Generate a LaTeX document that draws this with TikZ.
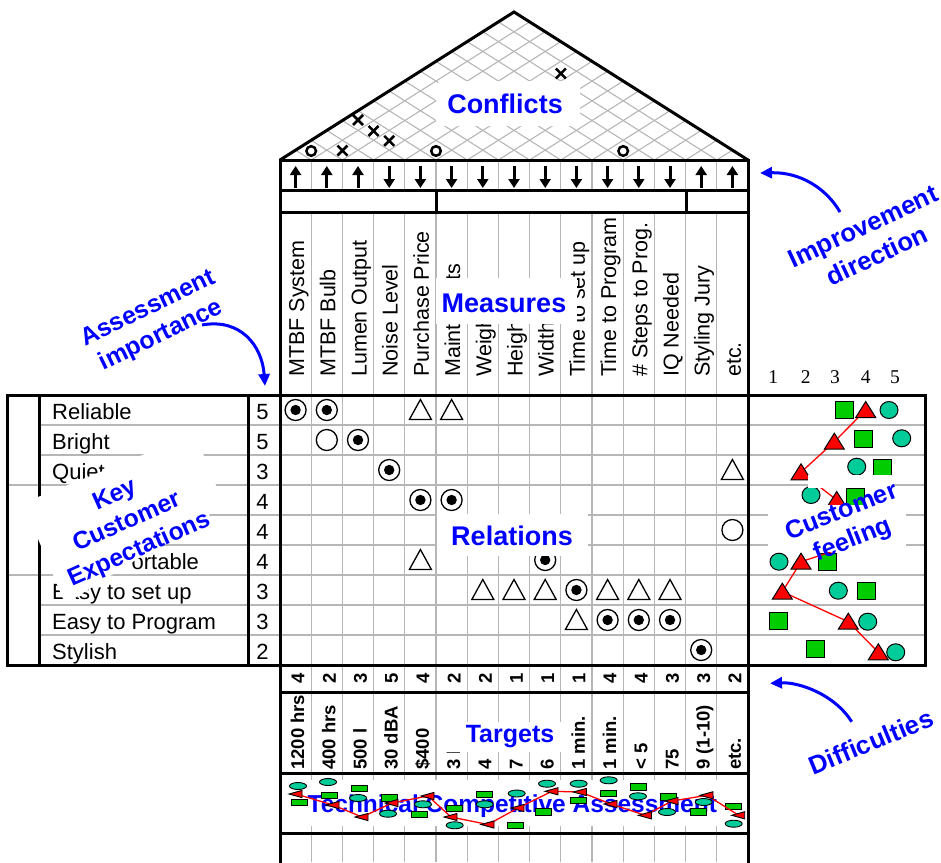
\documentclass[tikz,border=0pt]{standalone}
\usepackage{fontspec}
\setmainfont{Liberation Sans}
\newfontfamily\numserif{Liberation Serif}
\usetikzlibrary{arrows.meta}

\definecolor{gridgray}{RGB}{182,182,182}
\definecolor{mkgreen}{RGB}{0,204,0}
\definecolor{mkteal}{RGB}{0,204,153}
\definecolor{mkred}{RGB}{255,0,0}
\definecolor{lblue}{RGB}{0,0,255}

\begin{document}
\begin{tikzpicture}[x=1pt,y=-1pt,
  frame/.style={line width=3pt,line cap=rect},
  gridline/.style={draw=gridgray,line width=1.1pt},
  roofmark/.style={line width=2.5pt},
  dirarrow/.style={line width=3pt,-{Triangle[length=9pt,width=11pt]}},
  bluelbl/.style={text=lblue,font=\bfseries\fontsize{27}{30}\selectfont,inner sep=0pt},
  bluerot/.style={text=lblue,align=center,inner sep=0pt},
  callout/.style={draw=lblue,line width=3pt,-{Triangle[length=12pt,width=11pt]}},
  custtext/.style={anchor=base west,font=\fontsize{22}{24}\selectfont,inner sep=0pt},
  imptext/.style={anchor=base,font=\fontsize{22}{24}\selectfont,inner sep=0pt},
  meastext/.style={rotate=90,anchor=base west,font=\fontsize{21.5}{24}\selectfont,inner sep=0pt},
  targtext/.style={rotate=90,anchor=base west,font=\bfseries\fontsize{18.5}{20}\selectfont,inner sep=0pt},
  difftext/.style={rotate=90,font=\bfseries\fontsize{18.5}{20}\selectfont,inner sep=0pt},
  scaletext/.style={anchor=base,font=\numserif\fontsize{19.5}{20}\selectfont,inner sep=0pt},
  pics/strongrel/.style={code={
    \draw[line width=1.3pt,fill=white] (0,0) circle[radius=10.5pt];
    \fill (0,0) circle[radius=5.2pt];}},
  pics/mediumrel/.style={code={
    \draw[line width=1.3pt,fill=white] (0,0) circle[radius=10.5pt];}},
  pics/weakrel/.style={code={
    \draw[line width=1.3pt,line join=miter] (-11,9.5) -- (11,9.5) -- (0,-10.5) -- cycle;}},
  pics/conflictx/.style={code={
    \draw[roofmark] (-5,-5) -- (5,5) (-5,5) -- (5,-5);}},
  pics/conflicto/.style={code={
    \draw[roofmark] (0,0) circle[radius=4.8pt];}},
  pics/cfsquare/.style={code={
    \draw[line width=1pt,fill=mkgreen] (-9,-8.5) rectangle (9,8.5);}},
  pics/cfcircle/.style={code={
    \draw[line width=1pt,fill=mkteal] (0,0) ellipse[x radius=9pt,y radius=8.5pt];}},
  pics/cftriangle/.style={code={
    \draw[line width=1pt,fill=mkred,line join=miter] (-10,7.5) -- (10,7.5) -- (0,-8.5) -- cycle;}},
  pics/tarect/.style={code={
    \draw[line width=0.9pt,fill=mkgreen] (-8,-3.2) rectangle (8,3.2);}},
  pics/taellipse/.style={code={
    \draw[line width=0.9pt,fill=mkteal] (0,0) ellipse[x radius=8.5pt,y radius=3.5pt];}},
  pics/tatriangle/.style={code={
    \draw[line width=0.9pt,fill=mkred,line join=miter] (-7,0) -- (6,-3.6) -- (6,3.6) -- cycle;}},
]
\useasboundingbox (0,0) rectangle (941,862);

% ---------- roof: correlation lattice ----------
\pgfmathsetmacro{\rs}{148/234}
\begin{scope}
  \clip (280,160) -- (514,12) -- (748,160) -- cycle;
  \foreach \k in {0,...,15}{
    \pgfmathsetmacro{\bx}{280+31.2*\k}
    \draw[gridline] (\bx,160) -- ++(240,{-240*\rs});
    \draw[gridline] (\bx,160) -- ++(-240,{-240*\rs});
  }
\end{scope}
\draw[line width=3pt,line join=miter] (280,160) -- (514,12) -- (748,160);

% correlation marks
\foreach \px/\py in {342.4/150.6, 389.2/140.8, 373.6/130.9, 358/120, 560.8/73.5}
  \pic at (\px,\py) {conflictx};
\foreach \px/\py in {311.2/151, 436/151, 623.2/151}
  \pic at (\px,\py) {conflicto};

\fill[white,rounded corners=6pt] (436,81) rectangle (580,126);
\node[bluelbl] (conflicts) at (505,104) {Conflicts};

% ---------- improvement direction row ----------
\foreach \k in {1,...,14}
  \draw[gridline] ({280+31.2*\k},160) -- ({280+31.2*\k},190);
\foreach \k in {1,2,3,14,15}
  \draw[dirarrow] ({280+31.2*(\k-0.5)},188) -- ({280+31.2*(\k-0.5)},166);
\foreach \k in {4,...,13}
  \draw[dirarrow] ({280+31.2*(\k-0.5)},166) -- ({280+31.2*(\k-0.5)},188);

% ---------- measures header ----------
\foreach \k in {1,...,14}
  \draw[gridline] ({280+31.2*\k},212) -- ({280+31.2*\k},395);
\foreach \k/\t in {1/MTBF System,2/MTBF Bulb,3/Lumen Output,4/Noise Level,
  5/Purchase Price,6/Maint Costs,7/Weight,8/Height,9/Width,10/Time to set up,
  11/Time to Program,12/\# Steps to Prog.,13/IQ Needed,14/Styling Jury,15/etc.}
  \node[meastext] (meas\k) at ({280+31.2*(\k-0.5)+8.5},377) {\t};

% ---------- relationship matrix ----------
\foreach \k in {1,...,14}
  \draw[gridline] ({280+31.2*\k},395) -- ({280+31.2*\k},665);
\foreach \r in {1,...,8}{
  \draw[gridline] (39,{395+30*\r}) -- (748,{395+30*\r});
  \draw[gridline] (748,{395+30*\r}) -- (925,{395+30*\r});
}
\draw[gridline] (7,485) -- (39,485);
\draw[gridline] (7,575) -- (39,575);

\foreach \r/\k in {1/1,1/2,2/3,3/4,4/5,4/6,6/9,7/10,8/11,8/12,8/13,9/14}
  \pic at ({280+31.2*(\k-0.5)},{410+30*(\r-1)}) {strongrel};
\foreach \r/\k in {2/2,5/15}
  \pic at ({280+31.2*(\k-0.5)},{410+30*(\r-1)}) {mediumrel};
\foreach \r/\k in {1/5,1/6,3/15,6/5,7/7,7/8,7/9,7/11,7/12,7/13,8/10}
  \pic at ({280+31.2*(\k-0.5)},{410+30*(\r-1)}) {weakrel};

% ---------- customer expectations and importance ----------
\foreach \r/\t in {1/Reliable,2/Bright,3/Quiet,4/Inexpensive,6/Easily Portable,
  7/Easy to set up,8/Easy to Program,9/Stylish}
  \node[custtext] (cust\r) at (52,{395+30*(\r-1)+24}) {\t};
\foreach \r/\v in {1/5,2/5,3/3,4/4,5/4,6/4,7/3,8/3,9/2}
  \node[imptext] (imp\r) at (262.5,{395+30*(\r-1)+24}) {\v};

% ---------- customer feeling ----------
\foreach \v/\px in {1/773.3,2/805.7,3/835,4/865.7,5/895}
  \node[scaletext] (scale\v) at (\px,383.5) {\v};

\foreach \r/\sx/\sy/\tx/\ty/\ox/\oy in {
  1/844.3/410/865.7/410/889/410,
  2/863.3/439/834.3/441.7/901.7/438.3,
  3/882.7/468.3/801/472.3/856.7/466.7,
  4/855/496.7/836.7/500/811/495,
  6/827.3/561.7/801/561.7/779/561.7,
  7/866.7/590.7/782.3/591.7/838.3/590.7,
  8/778.3/620.7/848.3/621.7/867.7/621.7,
  9/815/649.3/878.3/652.3/895.7/652.3}{
  \coordinate (cf\r) at (\tx,\ty);
  \pic at (\sx,\sy) {cfsquare};
  \pic at (\ox,\oy) {cfcircle};
}
\coordinate (cf5) at (892,532);
\draw[mkred,line width=1.3pt] (cf1) -- (cf2) -- (cf3) -- (cf4) -- (cf5) -- (cf6)
  -- (cf7) -- (cf8) -- (cf9);
\foreach \r in {1,...,9}
  \pic at (cf\r) {cftriangle};

% ---------- difficulty, targets, technical assessment ----------
\foreach \k in {1,...,14}{
  \draw[gridline] ({280+31.2*\k},665) -- ({280+31.2*\k},773);
  \draw[gridline] ({280+31.2*\k},773) -- ({280+31.2*\k},780);
  \draw[gridline] ({280+31.2*\k},826) -- ({280+31.2*\k},862);
}
\foreach \k/\v in {1/4,2/2,3/3,4/5,5/4,6/2,7/2,8/1,9/1,10/1,11/4,12/4,13/3,14/3,15/2}
  \node[difftext] (diff\k) at ({280+31.2*(\k-0.5)+2.5},678.5) {\v};
\foreach \k/\t in {1/1200 hrs,2/400 hrs,3/500 l,4/30 dBA,5/\$400,6/3 lbs,7/4,8/7,9/6,
  10/1 min.,11/1 min.,12/< 5,13/75,14/9 (1-10),15/etc.}
  \node[targtext] (targ\k) at ({280+31.2*(\k-0.5)+8.5},770) {\t};

\node[bluelbl,anchor=base,font=\bfseries\fontsize{24.5}{26}\selectfont] (techlbl)
  at (512.3,812) {Technical Competitive Assessment};

\foreach \k/\ex/\ey/\rx/\ry/\tx/\ty in {
  1/298/786/299.7/802.7/296/794,
  2/328/782/329/795.3/333/805,
  3/358/798/359.7/788.7/362/817,
  4/388/813.7/389.7/798/392/803,
  5/423/804.3/419.7/814.3/428/796,
  6/454.7/825.3/454.7/808.7/451/817,
  7/484.7/804.3/484.7/794.3/488/824.5,
  8/516.7/793.5/515/825.5/518/808,
  9/547/783.7/543.7/812/552/791.3,
  10/578.7/783.7/578.7/800.3/580.3/792,
  11/608.7/780.3/608.7/793.7/611/804,
  12/638/796.3/638.7/787/645.3/815.3,
  13/667/812/668.7/797/672/801,
  14/703.7/802/698.7/812/707/795.3,
  15/733.7/823.7/733.7/806.3/738.7/815.3}{
  \coordinate (ta\k) at (\tx,\ty);
  \pic at (\ex,\ey) {taellipse};
  \pic at (\rx,\ry) {tarect};
}
\draw[mkred,line width=1.3pt] (ta1) -- (ta2) -- (ta3) -- (ta4) -- (ta5) -- (ta6) -- (ta7)
  -- (ta8) -- (ta9) -- (ta10) -- (ta11) -- (ta12) -- (ta13) -- (ta14) -- (ta15);
\foreach \k in {1,...,15}
  \pic at (ta\k) {tatriangle};

% ---------- heavy frame ----------
\draw[frame] (280,160) -- (748,160);
\draw[frame] (280,190) -- (748,190);
\draw[frame] (280,212) -- (748,212);
\draw[frame] (436,190) -- (436,212);
\draw[frame] (686,190) -- (686,212);
\draw[frame] (7,395) -- (925,395);
\draw[frame] (7,665) -- (925,665);
\draw[frame] (280,692) -- (748,692);
\draw[frame] (280,773) -- (748,773);
\draw[frame] (280,833) -- (748,833);
\draw[frame] (280,160) -- (280,865);
\draw[frame] (748,160) -- (748,865);
\draw[frame] (7,395) -- (7,665);
\draw[frame] (39,395) -- (39,665);
\draw[frame] (248,395) -- (248,665);
\draw[frame] (925,395) -- (925,665);

% ---------- region labels on white patches ----------
\fill[white] (436,278) rectangle (577,324);
\node[bluelbl] (measures) at (504,303) {Measures};

\fill[white] (437,514) rectangle (588,556);
\node[bluelbl] (relations) at (512,536) {Relations};

\fill[white] (442,722) rectangle (563,752);
\node[bluelbl,font=\bfseries\fontsize{25}{27}\selectfont] (targets) at (510,737) {Targets};

\fill[white] (23,503) -- (195,434) -- (217,488) -- (209,516) -- (139,558) -- (70,601)
  -- (64,601) -- cycle;
\node[bluerot,rotate=24,font=\bfseries\fontsize{24.6}{29.8}\selectfont] (kce)
  at (127.5,523) {Key\\Customer\\Expectations};

\fill[white] (808,475) rectangle (893,488);
\fill[white] (768,505) rectangle (906,552);
\node[bluerot,rotate=21.5,font=\bfseries\fontsize{25.3}{30}\selectfont] (cfeel)
  at (847.5,526.7) {Customer\\feeling};

% ---------- call-outs ----------
\node[bluerot,rotate=25,font=\bfseries\fontsize{25.7}{32.5}\selectfont] (improve)
  at (870,241) {Improvement\\direction};
\coordinate (improvestart) at (840,212);
\coordinate (improvetip) at (760,173);
\draw[callout] (improvestart) .. controls (826,188) and (800,172) .. (improvetip);

\node[bluerot,rotate=25.7,font=\bfseries\fontsize{24.8}{30}\selectfont] (assess)
  at (155,322.5) {Assessment\\importance};
\coordinate (assessstart) at (202,325);
\coordinate (assesstip) at (265,386);
\draw[callout] (assessstart) .. controls (240,318) and (262,345) .. (assesstip);

\node[bluerot,rotate=22.3,font=\bfseries\fontsize{25.7}{30}\selectfont] (difficult)
  at (871,741.7) {Difficulties};
\coordinate (difficultstart) at (851.7,721.7);
\coordinate (difficulttip) at (770,683.3);
\draw[callout] (difficultstart) .. controls (835,695) and (800,682) .. (difficulttip);
\end{tikzpicture}
\end{document}
